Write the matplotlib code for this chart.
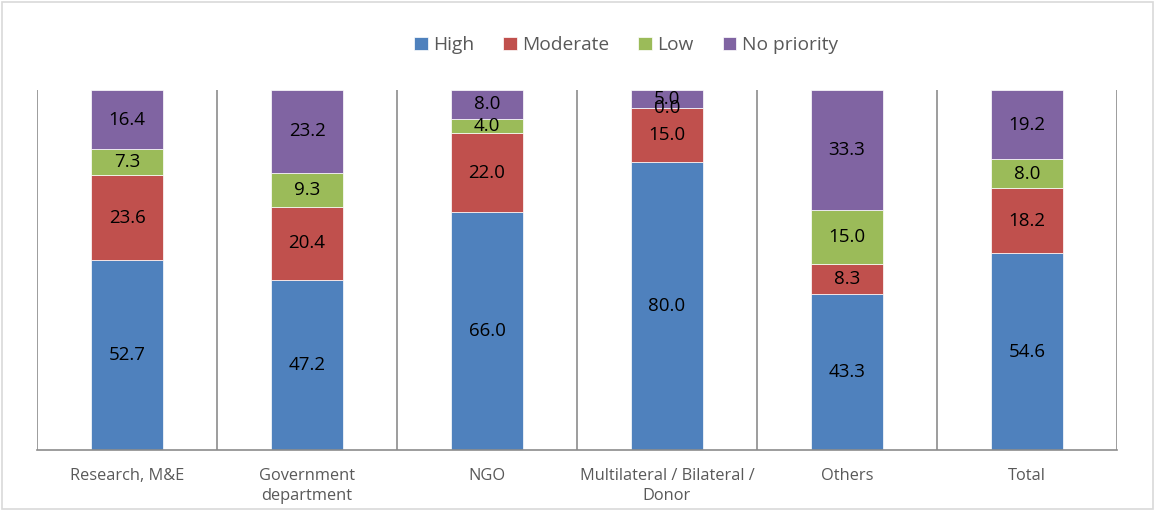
import matplotlib
matplotlib.use("Agg")
import matplotlib.pyplot as plt
from matplotlib.patches import Rectangle
import numpy as np

plt.rcParams['font.family'] = ['Open Sans', 'DejaVu Sans']

categories = ["Research, M&E", "Government\ndepartment", "NGO",
              "Multilateral / Bilateral /\nDonor", "Others", "Total"]
series_names = ["High", "Moderate", "Low", "No priority"]
high = [52.7, 47.2, 66.0, 80.0, 43.3, 54.6]
moderate = [23.6, 20.4, 22.0, 15.0, 8.3, 18.2]
low = [7.3, 9.3, 4.0, 0.0, 15.0, 8.0]
no_priority = [16.4, 23.2, 8.0, 5.0, 33.3, 19.2]
colors = ["#4F81BD", "#C0504D", "#9BBB59", "#8064A2"]

fig = plt.figure(figsize=(11.55, 5.11), dpi=100)
ax = fig.add_axes([37/1155, 61/511, 1080/1155, 360/511])

x = np.arange(len(categories))
bottom = np.zeros(len(categories))
for name, vals, col in zip(series_names, [high, moderate, low, no_priority], colors):
    vals = np.array(vals)
    ax.bar(x, vals, width=0.4, bottom=bottom, color=col, label=name,
           edgecolor="white", linewidth=0.5, zorder=2)
    for xi, b, v in zip(x, bottom, vals):
        ax.text(xi, b + v / 2, f"{v:.1f}", ha="center", va="center",
                fontsize=13.5, color="black", zorder=3)
    bottom += vals

ax.set_xlim(-0.5, len(categories) - 0.5)
ax.set_ylim(0, 100)
for sep in np.arange(-0.5, len(categories), 1.0):
    ax.axvline(sep, color="#8C8C8C", linewidth=1.2, zorder=1)

for s in ["top", "right", "left"]:
    ax.spines[s].set_visible(False)
ax.spines["bottom"].set_color("#8C8C8C")
ax.spines["bottom"].set_linewidth(1.2)
ax.set_yticks([])
ax.set_xticks(x)
ax.set_xticklabels(categories, fontsize=11.8, color="#595959", linespacing=1.3)
ax.tick_params(axis="x", length=0, pad=13)

leg = fig.legend(loc="center", bbox_to_anchor=(0.542, 1 - 45/511), ncol=4,
                 frameon=False, fontsize=13.8, handlelength=0.7, handleheight=0.7,
                 handletextpad=0.3, columnspacing=1.5)
for t in leg.get_texts():
    t.set_color("#595959")

fig.patches.append(Rectangle((0.002, 0.003), 0.996, 0.994, transform=fig.transFigure,
                             fill=False, edgecolor="#D9D9D9", linewidth=1.2))

fig.savefig("out.png", dpi=100)
